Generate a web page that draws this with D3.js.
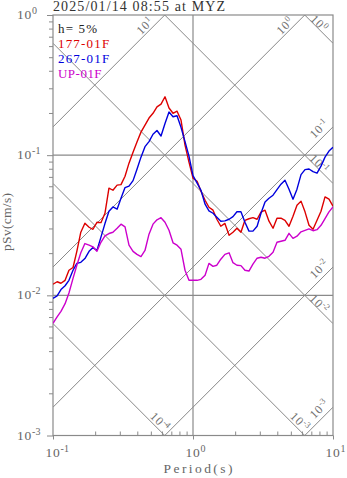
<!DOCTYPE html>
<html>
<head>
<meta charset="utf-8">
<script src="https://cdn.jsdelivr.net/npm/d3@7"></script>
<style>
body { margin: 0; background: #fff; }
text { font-family: "Liberation Serif", "Times New Roman", serif; }
</style>
</head>
<body>
<script>
// periods (s), shared by the three components
const periods = [0.100,0.107,0.114,0.122,0.130,0.139,0.148,0.158,0.169,0.181,0.193,0.206,0.220,0.235,0.251,0.268,0.287,0.306,0.327,0.349,0.373,0.398,0.425,0.454,0.485,0.518,0.553,0.591,0.631,0.674,0.720,0.769,0.821,0.877,0.936,1.00,1.07,1.14,1.22,1.30,1.39,1.48,1.58,1.69,1.81,1.93,2.06,2.20,2.35,2.51,2.68,2.87,3.06,3.27,3.49,3.73,3.98,4.25,4.54,4.85,5.18,5.53,5.91,6.31,6.74,7.20,7.69,8.21,8.77,9.36,10.0];

// pSv (cm/s)
const sv177 = [0.0120,0.0125,0.0122,0.0128,0.0151,0.0158,0.0206,0.0282,0.0327,0.0306,0.0296,0.0332,0.0330,0.0385,0.0582,0.0562,0.0611,0.0616,0.0708,0.0877,0.105,0.124,0.146,0.164,0.184,0.199,0.221,0.231,0.261,0.217,0.199,0.206,0.178,0.118,0.0891,0.0685,0.0652,0.0553,0.0477,0.0425,0.0405,0.0349,0.0311,0.0326,0.0268,0.0282,0.0301,0.0282,0.0343,0.0352,0.0358,0.0349,0.0392,0.0405,0.0338,0.0301,0.0355,0.0355,0.0343,0.0311,0.0367,0.0439,0.0470,0.0394,0.0316,0.0296,0.0343,0.0398,0.0504,0.0485,0.0432];
const sv267 = [0.00952,0.00992,0.0110,0.0117,0.0128,0.0151,0.0169,0.0172,0.0183,0.0206,0.0219,0.0209,0.0260,0.0325,0.0398,0.0427,0.0412,0.0493,0.0587,0.0601,0.0658,0.0794,0.0968,0.115,0.125,0.141,0.150,0.137,0.168,0.203,0.188,0.191,0.158,0.125,0.0984,0.0714,0.0631,0.0562,0.0447,0.0401,0.0385,0.0361,0.0338,0.0340,0.0349,0.0364,0.0395,0.0395,0.0332,0.0287,0.0287,0.0311,0.0385,0.0464,0.0493,0.0518,0.0567,0.0621,0.0663,0.0572,0.0485,0.0572,0.0726,0.0788,0.0797,0.0763,0.0744,0.0835,0.0968,0.107,0.114];
const svUP = [0.00631,0.00702,0.00769,0.00872,0.0104,0.0132,0.0164,0.0201,0.0234,0.0228,0.0222,0.0206,0.0239,0.0266,0.0276,0.0282,0.0301,0.0322,0.0308,0.0228,0.0206,0.0196,0.0189,0.0209,0.0273,0.0322,0.0346,0.0358,0.0332,0.0291,0.0237,0.0228,0.0213,0.0151,0.0128,0.0128,0.0128,0.0130,0.0139,0.0169,0.0161,0.0164,0.0181,0.0196,0.0201,0.0171,0.0164,0.0163,0.0151,0.0149,0.0167,0.0184,0.0187,0.0184,0.0190,0.0203,0.0239,0.0243,0.0247,0.0277,0.0255,0.0264,0.0284,0.0291,0.0298,0.0289,0.0294,0.0316,0.0353,0.0394,0.0427];

const seriesNames = ["177-01F", "267-01F", "UP-01F"];
const seriesColors = ["#dd0000", "#0000dd", "#cc00cc"];
const titleText = "2025/01/14 08:55 at MYZ";
const dampingText = "h= 5%";
const xTickExps = [-1, 0, 1];
const yTickExps = [0, -1, -2, -3];
const accLabelExps = [1, 0, -1, -2, -3];   // pSa lines
const dispLabelExps = [0, -1, -2, -3, -4]; // pSd lines

const W = 347, H = 478;
const L = 53, R = 333, T0 = 15, B = 435.5;
const TWO_PI = 2 * Math.PI;
const grey = "#8a8a8a";

const svg = d3.select("body").append("svg")
  .attr("width", W).attr("height", H);

const x = d3.scaleLog().domain([0.1, 10]).range([L, R]);
const y = d3.scaleLog().domain([0.001, 1]).range([B, T0]);

svg.append("clipPath").attr("id", "plot")
  .append("rect").attr("x", L).attr("y", T0).attr("width", R - L).attr("height", B - T0);

// tripartite diagonals
const diag = svg.append("g")
  .attr("clip-path", "url(#plot)")
  .attr("stroke", "#7a7a7a").attr("stroke-width", 0.9);
d3.range(-6, 3).forEach(function(k) {
  const a = Math.pow(10, k);
  diag.append("line")
    .attr("x1", x(0.1)).attr("y1", y(a * 0.1 / TWO_PI))
    .attr("x2", x(10)).attr("y2", y(a * 10 / TWO_PI));
  diag.append("line")
    .attr("x1", x(0.1)).attr("y1", y(TWO_PI * a / 0.1))
    .attr("x2", x(10)).attr("y2", y(TWO_PI * a / 10));
});

// grid + frame
const grid = svg.append("g").attr("stroke", grey).attr("stroke-width", 1.2);
grid.append("line").attr("x1", x(1)).attr("x2", x(1)).attr("y1", T0).attr("y2", B);
[0.1, 0.01].forEach(function(v) {
  grid.append("line").attr("x1", L).attr("x2", R).attr("y1", y(v)).attr("y2", y(v));
});
svg.append("rect")
  .attr("x", L).attr("y", T0).attr("width", R - L).attr("height", B - T0)
  .attr("fill", "none").attr("stroke", grey).attr("stroke-width", 1.2);

// axes ticks
const yMajor = yTickExps.map(e => Math.pow(10, e));
const yMinor = [];
[-3, -2, -1].forEach(function(e) { for (let m = 2; m <= 9; m++) yMinor.push(m * Math.pow(10, e)); });
const xMajor = xTickExps.map(e => Math.pow(10, e));
const xMinor = [];
[-1, 0].forEach(function(e) { for (let m = 2; m <= 9; m++) xMinor.push(m * Math.pow(10, e)); });

function styleAxis(g) {
  g.select(".domain").remove();
  g.selectAll("line").attr("stroke", grey).attr("stroke-width", 1);
}
svg.append("g").attr("transform", "translate(" + L + ",0)")
  .call(d3.axisLeft(y).tickValues(yMajor).tickSize(6).tickFormat("")).call(styleAxis);
svg.append("g").attr("transform", "translate(" + L + ",0)")
  .call(d3.axisLeft(y).tickValues(yMinor).tickSize(4).tickFormat("")).call(styleAxis);
svg.append("g").attr("transform", "translate(0," + B + ")")
  .call(d3.axisBottom(x).tickValues(xMajor).tickSize(4).tickFormat("")).call(styleAxis);
svg.append("g").attr("transform", "translate(0," + B + ")")
  .call(d3.axisBottom(x).tickValues(xMinor).tickSize(-4).tickFormat("")).call(styleAxis);

// power-of-ten label helper
function pow10(sel, e, baseSize, supSize, supDy) {
  sel.append("tspan").text("10").attr("font-size", baseSize).attr("letter-spacing", 0.8);
  sel.append("tspan").text(String(e)).attr("font-size", supSize).attr("dy", supDy);
}

yTickExps.forEach(function(e) {
  const t = svg.append("text").attr("x", 17).attr("y", y(Math.pow(10, e)) + 4)
    .attr("fill", "#666");
  pow10(t, e, 13.5, 10, -5);
});
xTickExps.forEach(function(e) {
  const t = svg.append("text").attr("x", x(Math.pow(10, e)) - 7.5).attr("y", 456.5)
    .attr("fill", "#666");
  pow10(t, e, 13.5, 10, -5);
});

// diagonal labels
function accExit(a) {
  let T = 10, v = a * 10 / TWO_PI, side = "right";
  if (v > 1) { v = 1; T = TWO_PI / a; side = "top"; }
  return { px: x(T), py: y(v), side: side };
}
function dispExit(d) {
  let T = 10, v = TWO_PI * d / 10, side = "right";
  if (v < 0.001) { v = 0.001; T = TWO_PI * d / 0.001; side = "bottom"; }
  return { px: x(T), py: y(v), side: side };
}
const labelShift = {
  acc: { right: [-14, 2], top: [-20, 11] },
  disp: { right: [-14, -20], bottom: [-5, -14] }
};
function diagLabel(ex, e, kind) {
  const s = labelShift[kind][ex.side];
  const g = svg.append("g")
    .attr("transform", "translate(" + (ex.px + s[0]) + "," + (ex.py + s[1]) + ") rotate(" + (kind === "acc" ? -45 : 45) + ")");
  const t = g.append("text").attr("text-anchor", "middle").attr("y", 4).attr("fill", "#707070");
  pow10(t, e, 12, 8.5, -4.5);
}
accLabelExps.forEach(e => diagLabel(accExit(Math.pow(10, e)), e, "acc"));
dispLabelExps.forEach(e => diagLabel(dispExit(Math.pow(10, e)), e, "disp"));

// spectra
const line = d3.line()
  .x(d => x(d[0]))
  .y(d => y(d[1]));
const curves = svg.append("g").attr("clip-path", "url(#plot)");
[sv177, sv267, svUP].forEach(function(vals, i) {
  curves.append("path")
    .datum(periods.map((p, j) => [p, vals[j]]))
    .attr("fill", "none")
    .attr("stroke", seriesColors[i])
    .attr("stroke-width", 1.4)
    .attr("stroke-linejoin", "round")
    .attr("d", line);
});

// texts
svg.append("text").text(titleText)
  .attr("x", 53).attr("y", 11).attr("font-size", 14).attr("fill", "#333")
  .attr("textLength", 172).attr("lengthAdjust", "spacing");
svg.append("text").text(dampingText)
  .attr("x", 58).attr("y", 33).attr("font-size", 13).attr("fill", "#222")
  .attr("textLength", 39).attr("lengthAdjust", "spacing");
seriesNames.forEach(function(n, i) {
  svg.append("text").text(n)
    .attr("x", 58).attr("y", 48 + 15 * i).attr("font-size", 13)
    .attr("fill", seriesColors[i])
    .attr("textLength", n.length * 7.6 - 2).attr("lengthAdjust", "spacing");
});
svg.append("text").text("Period(s)")
  .attr("x", 198).attr("y", 473).attr("text-anchor", "middle")
  .attr("font-size", 13.5).attr("fill", "#666")
  .attr("textLength", 69).attr("lengthAdjust", "spacing");
svg.append("text").text("pSv(cm/s)")
  .attr("transform", "translate(11,222) rotate(-90)")
  .attr("text-anchor", "middle")
  .attr("font-size", 13.5).attr("fill", "#666")
  .attr("textLength", 58).attr("lengthAdjust", "spacing");
</script>
</body>
</html>
